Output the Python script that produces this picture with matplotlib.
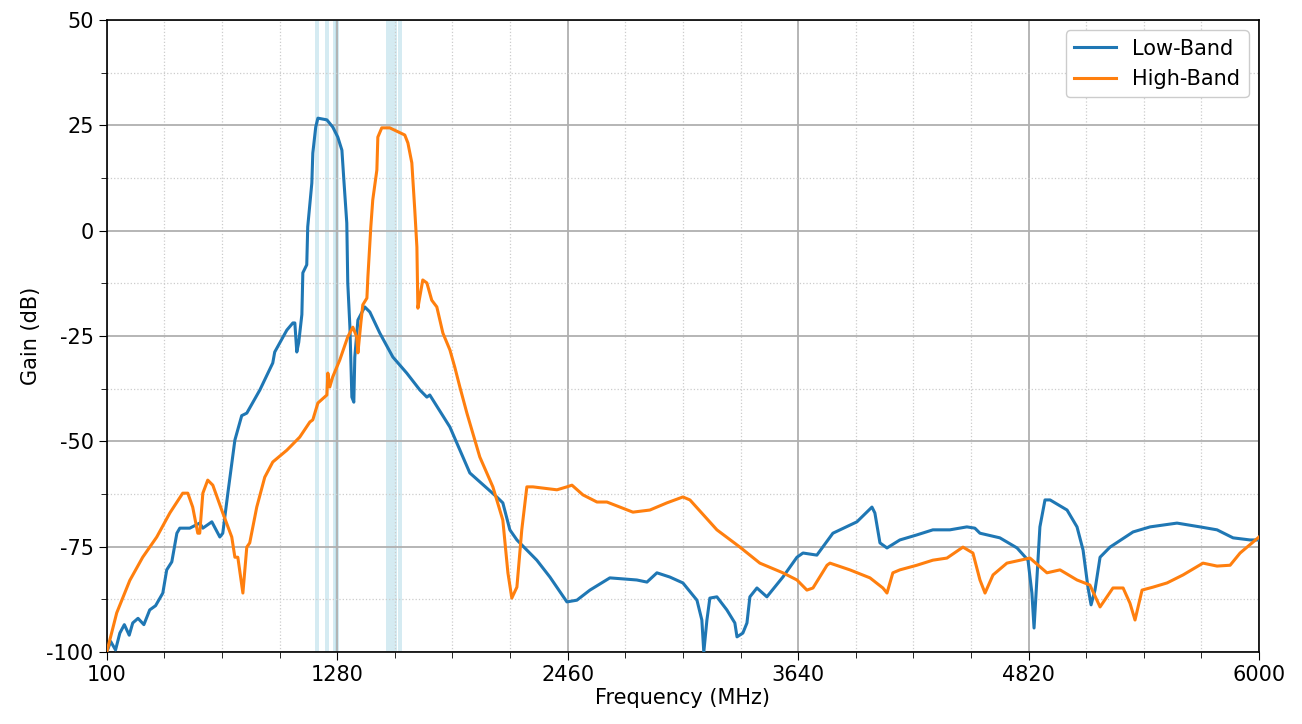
import matplotlib
matplotlib.use("Agg")
import matplotlib.pyplot as plt
from matplotlib.ticker import FixedLocator
import numpy as np

plt.rcParams["axes.unicode_minus"] = False

# ---- data (MHz, dB) ----
low_freq = [100, 120, 145, 167, 190, 215, 233, 260, 290, 320, 350, 387, 407, 433, 459, 474, 525,
            576, 592, 638, 679, 694, 720, 756, 791, 817, 884, 950, 960, 1022, 1053, 1063, 1073,
            1083, 1099, 1104, 1124, 1129, 1150, 1155, 1170, 1181, 1227, 1257, 1283, 1304, 1314,
            1329, 1334, 1345, 1355, 1365, 1370, 1386, 1421, 1447, 1498, 1565, 1636, 1703, 1739,
            1754, 1857, 1959, 2097, 2128, 2164, 2200, 2302, 2369, 2456, 2507, 2574, 2676, 2814,
            2866, 2917, 2983, 3050, 3122, 3147, 3157, 3173, 3188, 3224, 3275, 3316, 3327, 3357,
            3378, 3393, 3429, 3480, 3562, 3634, 3665, 3736, 3818, 3941, 4018, 4033, 4059, 4095,
            4161, 4248, 4330, 4417, 4504, 4545, 4571, 4673, 4761, 4817, 4837, 4848, 4863, 4878,
            4904, 4930, 5017, 5068, 5099, 5124, 5140, 5160, 5186, 5237, 5355, 5442, 5580, 5698,
            5785, 5867, 5954, 6000]
low_gain = [-100, -97.5, -99.5, -95.5, -93.5, -96.0, -93.1, -92.0, -93.5, -90.0, -89.0, -86.0,
            -80.5, -78.6, -71.8, -70.6, -70.6, -69.4, -70.6, -69.1, -72.7, -71.8, -62.3, -49.7,
            -43.9, -43.3, -37.8, -31.4, -28.8, -23.6, -21.9, -21.9, -28.8, -26.5, -19.9, -10.0,
            -8.1, 0.9, 11.3, 18.4, 24.6, 26.7, 26.3, 24.6, 22.2, 19.1, 12.0, 1.8, -12.4, -22.9,
            -39.5, -40.7, -30.0, -21.2, -18.1, -19.3, -24.3, -30.0, -33.8, -37.8, -39.5, -39.0,
            -46.6, -57.5, -63.2, -64.6, -71.0, -73.4, -78.2, -82.2, -88.1, -87.7, -85.3, -82.4,
            -82.9, -83.4, -81.2, -82.2, -83.6, -87.7, -92.4, -100, -92.4, -87.2, -86.9, -90.0,
            -93.1, -96.4, -95.5, -93.1, -86.9, -84.8, -86.9, -82.2, -77.5, -76.5, -77.0, -71.8,
            -69.1, -65.6, -67.0, -74.1, -75.3, -73.4, -72.2, -71.0, -71.0, -70.3, -70.6, -71.8,
            -72.9, -75.3, -78.2, -86.0, -94.3, -82.2, -70.3, -63.9, -63.9, -66.3, -70.3, -75.8,
            -84.6, -88.8, -85.3, -77.5, -75.1, -71.5, -70.3, -69.4, -70.3, -71.0, -72.9, -73.4,
            -73.4]

high_freq = [100, 151, 218, 284, 356, 423, 489, 515, 540, 566, 576, 592, 617, 643, 694, 740, 756,
             771, 797, 817, 832, 868, 909, 950, 1022, 1088, 1140, 1155, 1181, 1227, 1232, 1242,
             1257, 1293, 1334, 1360, 1380, 1386, 1401, 1411, 1432, 1437, 1452, 1462, 1483, 1488,
             1508, 1549, 1626, 1642, 1662, 1677, 1688, 1693, 1703, 1718, 1739, 1764, 1790, 1821,
             1857, 1882, 1908, 1944, 2010, 2077, 2128, 2154, 2174, 2200, 2225, 2251, 2282, 2405,
             2456, 2482, 2538, 2610, 2661, 2794, 2881, 2968, 3050, 3086, 3224, 3342, 3444, 3562,
             3634, 3685, 3716, 3788, 3803, 3905, 4008, 4074, 4095, 4125, 4161, 4248, 4330, 4402,
             4484, 4535, 4571, 4597, 4638, 4709, 4827, 4914, 4981, 5068, 5134, 5186, 5252, 5304,
             5339, 5365, 5401, 5457, 5529, 5611, 5713, 5785, 5852, 5903, 6000]
high_gain = [-100, -90.7, -83.0, -77.5, -72.7, -67.0, -62.3, -62.3, -65.6, -71.8, -71.8, -62.3,
             -59.2, -60.4, -67.0, -72.7, -77.5, -77.5, -86.0, -75.1, -74.1, -65.6, -58.5, -54.9,
             -52.1, -49.0, -45.4, -44.9, -40.9, -39.0, -33.8, -37.1, -34.7, -30.7, -25.2, -22.9,
             -25.2, -29.0, -21.9, -17.6, -16.0, -11.0, 0.9, 7.3, 14.4, 22.2, 24.4, 24.4, 22.7,
             20.8, 16.1, 5.0, -3.9, -18.4, -15.7, -11.7, -12.4, -16.5, -18.1, -24.3, -28.3, -32.4,
             -37.1, -43.3, -53.7, -60.8, -68.7, -81.2, -87.2, -84.6, -71.0, -60.8, -60.8, -61.5,
             -60.8, -60.4, -62.7, -64.4, -64.4, -66.8, -66.3, -64.6, -63.2, -63.9, -71.0, -75.1,
             -78.9, -81.2, -82.9, -85.3, -84.8, -79.4, -78.9, -80.5, -82.4, -84.8, -86.0, -81.2,
             -80.5, -79.4, -78.2, -77.7, -75.1, -76.5, -82.9, -86.0, -81.7, -78.9, -77.7, -81.2,
             -80.5, -82.9, -84.1, -89.3, -84.8, -84.8, -88.4, -92.4, -85.3, -84.6, -83.6, -81.7,
             -78.9, -79.6, -79.4, -76.5, -72.7]

# GNSS bands (MHz)
band_starts = [1166, 1218, 1258, 1269, 1530, 1592]
band_ends = [1186, 1238, 1278, 1289, 1585, 1612]

x_ticks = [100, 1280, 2460, 3640, 4820, 6000]
y_ticks = [-100, -75, -50, -25, 0, 25, 50]

fig = plt.figure(figsize=(13.02, 7.24), dpi=100)
ax = fig.add_axes([0.082, 0.0994, 0.885, 0.873])

for s, e in zip(band_starts, band_ends):
    ax.axvspan(s, e, color="lightblue", alpha=0.5, lw=0, zorder=0.5)

ax.plot(low_freq, low_gain, color="#1f77b4", lw=2.2, label="Low-Band", zorder=3)
ax.plot(high_freq, high_gain, color="#ff7f0e", lw=2.2, label="High-Band", zorder=3)

ax.set_xlim(100, 6000)
ax.set_ylim(-100, 50)
ax.set_xticks(x_ticks)
ax.set_yticks(y_ticks)
x_minor = [a + (b - a) * k / 4 for a, b in zip(x_ticks[:-1], x_ticks[1:]) for k in (1, 2, 3)]
y_minor = [a + (b - a) / 2 for a, b in zip(y_ticks[:-1], y_ticks[1:])]
ax.xaxis.set_minor_locator(FixedLocator(x_minor))
ax.yaxis.set_minor_locator(FixedLocator(y_minor))
ax.grid(which="major", color="#b0b0b0", lw=1.3, zorder=1)
ax.grid(which="minor", color="#cccccc", ls=":", lw=0.9, zorder=1)
ax.set_axisbelow(True)
ax.tick_params(axis="both", which="major", labelsize=15, length=6)
ax.tick_params(axis="both", which="minor", length=4)
ax.set_xlabel("Frequency (MHz)", fontsize=15, labelpad=2)
ax.set_ylabel("Gain (dB)", fontsize=15)
for sp in ax.spines.values():
    sp.set_linewidth(1.2)
ax.legend(loc="upper right", fontsize=15, framealpha=1, edgecolor="#cccccc")

fig.savefig("out.png", dpi=100)
